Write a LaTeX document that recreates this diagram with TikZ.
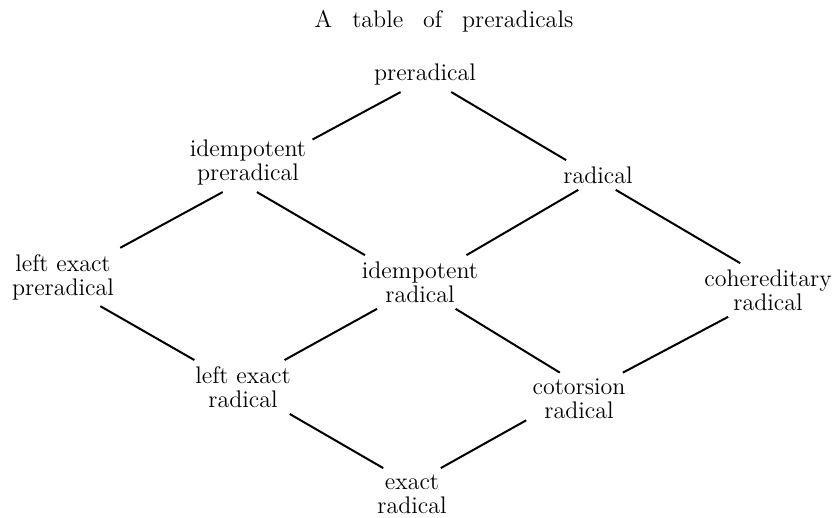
\documentclass[tikz,border=0pt]{standalone}
\usepackage{amsmath,amssymb}
\usepackage{tikz}

\tikzset{
  kind/.style={align=center, inner sep=3pt, font=\fontsize{12}{12}\selectfont},
  heading/.style={font=\fontsize{12}{12}\selectfont}
}

\begin{document}
\begin{tikzpicture}[x=0.5pt, y=-0.5pt]
        \useasboundingbox (0,0) rectangle (837,518);
        \node[heading] (title) at (444,21) {\spaceskip=10pt A table of preradicals};

        \node[kind] (pre) at (425,75)  {preradical};
        \node[kind] (ip)  at (248,163) {idempotent\\preradical};
        \node[kind] (rad) at (598,175) {radical};
        \node[kind] (lep) at (63,277)  {left exact\\preradical};
        \node[kind] (ir)  at (420,282) {idempotent\\radical};
        \node[kind] (cr)  at (768,290) {cohereditary\\radical};
        \node[kind] (ler) at (243,387) {left exact\\radical};
        \node[kind] (cot) at (579,399) {cotorsion\\radical};
        \node[kind] (er)  at (412,494) {exact\\radical};

        \foreach \i/\j in {pre.215/ip.20, pre.-33/rad.155, ip.229/lep.27, ip.-73/ir.154, rad.-143/ir.30, rad.-40/cr.136, lep.-38/ler.151, ir.-148/ler.33, ir.-37/cot.126, cr.-146/cot.31, ler.-30/er.138, cot.-158/er.42}
            \draw[line width=1pt] (\i) -- (\j);
        \end{tikzpicture}
\end{document}
